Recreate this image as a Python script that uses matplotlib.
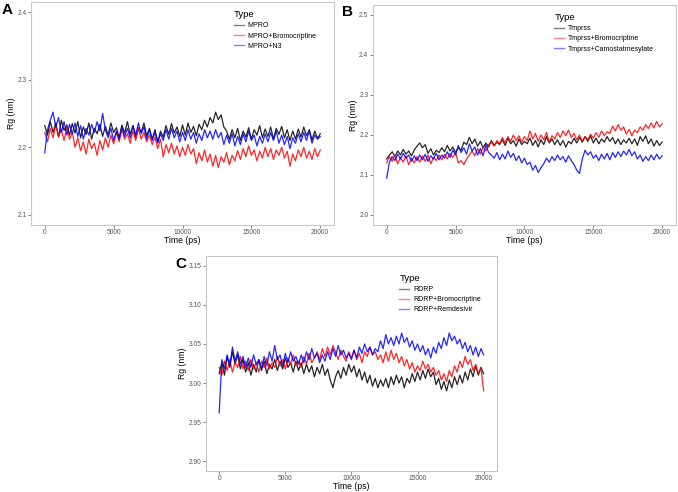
import matplotlib
matplotlib.use("Agg")
import matplotlib.pyplot as plt
import numpy as np

plt.rcParams['font.family'] = ['Liberation Sans', 'DejaVu Sans']

# time axis of the sampled traces (ps)
time_ps = np.arange(0, 20001, 200)

# Panel A - MPRO
mpro = [2.232, 2.218, 2.238, 2.222, 2.236, 2.215, 2.240, 2.225, 2.233, 2.218, 2.235,
        2.221, 2.238, 2.214, 2.230, 2.219, 2.236, 2.212, 2.228, 2.220, 2.234,
        2.216, 2.231, 2.218, 2.236, 2.222, 2.229, 2.214, 2.233, 2.221, 2.238,
        2.219, 2.232, 2.215, 2.229, 2.222, 2.236, 2.217, 2.228, 2.212, 2.226,
        2.208, 2.224, 2.215, 2.232, 2.219, 2.235, 2.221, 2.230, 2.216, 2.233,
        2.218, 2.236, 2.222, 2.231, 2.217, 2.234, 2.226, 2.240, 2.230, 2.244,
        2.236, 2.252, 2.241, 2.248, 2.230, 2.224, 2.212, 2.226, 2.214, 2.228,
        2.210, 2.224, 2.215, 2.229, 2.212, 2.226, 2.218, 2.232, 2.214, 2.227,
        2.216, 2.230, 2.212, 2.228, 2.219, 2.231, 2.214, 2.226, 2.210, 2.224,
        2.212, 2.227, 2.215, 2.230, 2.217, 2.226, 2.211, 2.224, 2.213, 2.220]
mpro_bromo = [2.222, 2.208, 2.228, 2.214, 2.232, 2.216, 2.226, 2.210, 2.230, 2.212, 2.222,
              2.200, 2.214, 2.195, 2.208, 2.190, 2.212, 2.198, 2.206, 2.188, 2.210,
              2.196, 2.214, 2.200, 2.218, 2.205, 2.222, 2.208, 2.226, 2.212, 2.220,
              2.206, 2.224, 2.210, 2.228, 2.212, 2.222, 2.208, 2.218, 2.204, 2.215,
              2.198, 2.212, 2.186, 2.204, 2.192, 2.206, 2.190, 2.202, 2.186, 2.200,
              2.188, 2.204, 2.190, 2.198, 2.176, 2.192, 2.180, 2.196, 2.178, 2.190,
              2.172, 2.188, 2.170, 2.186, 2.178, 2.192, 2.174, 2.188, 2.180, 2.195,
              2.182, 2.198, 2.186, 2.202, 2.188, 2.196, 2.180, 2.194, 2.184, 2.200,
              2.186, 2.198, 2.182, 2.196, 2.188, 2.200, 2.184, 2.194, 2.172, 2.190,
              2.180, 2.196, 2.186, 2.200, 2.184, 2.194, 2.182, 2.198, 2.186, 2.196]
mpro_n3 = [2.192, 2.226, 2.240, 2.252, 2.230, 2.244, 2.222, 2.238, 2.218, 2.234, 2.220,
           2.236, 2.216, 2.232, 2.212, 2.228, 2.218, 2.234, 2.222, 2.238, 2.224,
           2.250, 2.226, 2.214, 2.228, 2.210, 2.224, 2.212, 2.230, 2.216, 2.228,
           2.214, 2.232, 2.218, 2.236, 2.220, 2.230, 2.212, 2.226, 2.210, 2.222,
           2.206, 2.220, 2.210, 2.226, 2.212, 2.228, 2.214, 2.224, 2.208, 2.222,
           2.210, 2.226, 2.212, 2.222, 2.206, 2.220, 2.210, 2.226, 2.214, 2.224,
           2.212, 2.226, 2.214, 2.222, 2.204, 2.218, 2.206, 2.220, 2.202, 2.216,
           2.204, 2.220, 2.208, 2.224, 2.210, 2.218, 2.202, 2.216, 2.206, 2.220,
           2.208, 2.222, 2.210, 2.224, 2.206, 2.218, 2.204, 2.216, 2.198, 2.214,
           2.206, 2.220, 2.208, 2.222, 2.210, 2.224, 2.206, 2.218, 2.212, 2.216]

# Panel B - Tmprss
tmp = [2.140, 2.150, 2.158, 2.146, 2.160, 2.150, 2.164, 2.152, 2.160, 2.148, 2.162,
       2.172, 2.180, 2.168, 2.176, 2.154, 2.166, 2.150, 2.162, 2.156, 2.168,
       2.158, 2.174, 2.160, 2.170, 2.156, 2.168, 2.162, 2.182, 2.176, 2.194,
       2.178, 2.190, 2.172, 2.184, 2.168, 2.180, 2.170, 2.186, 2.174, 2.182,
       2.176, 2.188, 2.174, 2.192, 2.178, 2.186, 2.172, 2.190, 2.176, 2.184,
       2.178, 2.192, 2.174, 2.186, 2.170, 2.188, 2.176, 2.196, 2.180, 2.190,
       2.176, 2.188, 2.174, 2.186, 2.170, 2.184, 2.178, 2.192, 2.180, 2.194,
       2.182, 2.196, 2.184, 2.198, 2.180, 2.192, 2.178, 2.190, 2.182, 2.196,
       2.184, 2.194, 2.178, 2.190, 2.176, 2.188, 2.180, 2.192, 2.178, 2.190,
       2.174, 2.196, 2.184, 2.198, 2.178, 2.190, 2.172, 2.186, 2.174, 2.182]
tmp_bromo = [2.130, 2.146, 2.134, 2.150, 2.128, 2.144, 2.132, 2.148, 2.126, 2.142, 2.130,
             2.146, 2.132, 2.148, 2.134, 2.150, 2.128, 2.144, 2.136, 2.150, 2.138,
             2.152, 2.140, 2.154, 2.144, 2.156, 2.130, 2.136, 2.126, 2.140, 2.150,
             2.160, 2.148, 2.166, 2.152, 2.170, 2.160, 2.176, 2.182, 2.172, 2.186,
             2.178, 2.194, 2.180, 2.196, 2.184, 2.200, 2.186, 2.198, 2.182, 2.196,
             2.186, 2.210, 2.190, 2.204, 2.184, 2.200, 2.188, 2.206, 2.182, 2.198,
             2.190, 2.206, 2.194, 2.210, 2.198, 2.212, 2.194, 2.204, 2.188, 2.200,
             2.184, 2.196, 2.188, 2.202, 2.192, 2.206, 2.194, 2.210, 2.198, 2.208,
             2.204, 2.222, 2.210, 2.226, 2.212, 2.220, 2.202, 2.214, 2.198, 2.212,
             2.206, 2.220, 2.212, 2.226, 2.216, 2.230, 2.218, 2.234, 2.220, 2.228]
tmp_camo = [2.092, 2.132, 2.146, 2.136, 2.152, 2.140, 2.154, 2.142, 2.150, 2.134, 2.148,
            2.136, 2.150, 2.138, 2.152, 2.134, 2.148, 2.140, 2.154, 2.138, 2.150,
            2.142, 2.158, 2.144, 2.162, 2.150, 2.174, 2.156, 2.168, 2.152, 2.178,
            2.160, 2.170, 2.150, 2.166, 2.148, 2.176, 2.156, 2.150, 2.142, 2.156,
            2.138, 2.152, 2.140, 2.160, 2.144, 2.154, 2.136, 2.148, 2.130, 2.142,
            2.126, 2.132, 2.112, 2.124, 2.106, 2.118, 2.128, 2.142, 2.132, 2.146,
            2.136, 2.150, 2.138, 2.146, 2.132, 2.148, 2.136, 2.126, 2.112, 2.104,
            2.140, 2.162, 2.150, 2.158, 2.142, 2.150, 2.136, 2.152, 2.140, 2.154,
            2.138, 2.156, 2.144, 2.158, 2.146, 2.160, 2.150, 2.164, 2.148, 2.158,
            2.140, 2.150, 2.134, 2.146, 2.136, 2.150, 2.138, 2.152, 2.140, 2.148]

# Panel C - RDRP
rdrp = [3.012, 3.026, 3.010, 3.034, 3.020, 3.040, 3.024, 3.036, 3.018, 3.030, 3.014,
        3.026, 3.010, 3.024, 3.014, 3.030, 3.016, 3.028, 3.012, 3.024, 3.018,
        3.030, 3.016, 3.028, 3.018, 3.032, 3.020, 3.026, 3.014, 3.028, 3.016,
        3.026, 3.012, 3.024, 3.014, 3.022, 3.008, 3.020, 3.012, 3.024, 3.010,
        3.018, 3.004, 2.994, 3.008, 3.016, 3.006, 3.020, 3.010, 3.024, 3.014,
        3.022, 3.008, 3.018, 3.004, 3.014, 3.000, 3.010, 2.996, 3.006, 2.994,
        3.004, 2.996, 3.006, 2.994, 3.008, 2.998, 3.010, 3.000, 3.008, 2.994,
        3.006, 3.000, 3.012, 3.002, 3.014, 3.004, 3.016, 3.006, 3.018, 3.008,
        3.014, 2.998, 3.006, 2.992, 3.002, 2.990, 3.004, 2.994, 3.008, 2.998,
        3.010, 3.000, 3.014, 3.004, 3.018, 3.008, 3.022, 3.010, 3.020, 3.012]
rdrp_bromo = [3.020, 3.010, 3.028, 3.016, 3.030, 3.014, 3.026, 3.020, 3.034, 3.018, 3.028,
              3.016, 3.030, 3.018, 3.026, 3.014, 3.028, 3.020, 3.032, 3.018, 3.026,
              3.020, 3.034, 3.022, 3.030, 3.018, 3.032, 3.024, 3.036, 3.022, 3.028,
              3.020, 3.034, 3.024, 3.038, 3.026, 3.032, 3.040, 3.030, 3.044, 3.034,
              3.046, 3.036, 3.048, 3.040, 3.030, 3.042, 3.034, 3.028, 3.040, 3.032,
              3.042, 3.030, 3.038, 3.026, 3.040, 3.034, 3.046, 3.036, 3.040, 3.030,
              3.036, 3.026, 3.040, 3.028, 3.042, 3.030, 3.038, 3.026, 3.034, 3.022,
              3.030, 3.018, 3.026, 3.014, 3.022, 3.016, 3.028, 3.018, 3.024, 3.014,
              3.020, 3.010, 3.016, 3.004, 3.012, 3.002, 3.016, 3.008, 3.022, 3.014,
              3.028, 3.020, 3.034, 3.024, 3.030, 3.016, 3.024, 3.012, 3.020, 2.990]
rdrp_remd = [2.962, 3.030, 3.018, 3.036, 3.022, 3.046, 3.028, 3.040, 3.024, 3.034, 3.020,
             3.032, 3.020, 3.036, 3.024, 3.030, 3.018, 3.034, 3.022, 3.040, 3.028,
             3.048, 3.030, 3.036, 3.022, 3.038, 3.026, 3.040, 3.028, 3.034, 3.024,
             3.036, 3.026, 3.040, 3.030, 3.044, 3.032, 3.038, 3.026, 3.036, 3.028,
             3.040, 3.030, 3.044, 3.034, 3.048, 3.036, 3.042, 3.032, 3.038, 3.030,
             3.042, 3.032, 3.046, 3.038, 3.050, 3.040, 3.046, 3.036, 3.044, 3.040,
             3.054, 3.044, 3.062, 3.050, 3.058, 3.048, 3.060, 3.050, 3.064, 3.052,
             3.058, 3.046, 3.054, 3.042, 3.050, 3.040, 3.048, 3.036, 3.044, 3.032,
             3.046, 3.038, 3.052, 3.044, 3.058, 3.048, 3.064, 3.054, 3.060, 3.050,
             3.056, 3.044, 3.052, 3.040, 3.048, 3.036, 3.046, 3.034, 3.044, 3.036]

colors = ["black", "#ff0000", "#0000ff"]

# label position in figure coords, legend anchor in axes coords
panels = [
    ("A", [0.0457, 0.5427, 0.447, 0.4533], (2.1, 2.4), [2.1, 2.2, 2.3, 2.4], "%.1f",
     [mpro, mpro_bromo, mpro_n3], ["MPRO", "MPRO+Bromocriptine", "MPRO+N3"],
     (0.003, 0.994), (0.66, 0.975)),
    ("B", [0.550, 0.5427, 0.447, 0.4472], (2.0, 2.5), [2.0, 2.1, 2.2, 2.3, 2.4, 2.5], "%.1f",
     [tmp, tmp_bromo, tmp_camo], ["Tmprss", "Tmprss+Bromocriptine", "Tmprss+Camostatmesylate"],
     (0.505, 0.99), (0.59, 0.975)),
    ("C", [0.3038, 0.0427, 0.429, 0.437], (2.9, 3.15), [2.90, 2.95, 3.00, 3.05, 3.10, 3.15], "%.2f",
     [rdrp, rdrp_bromo, rdrp_remd], ["RDRP", "RDRP+Bromocriptine", "RDRP+Remdesivir"],
     (0.258, 0.477), (0.655, 0.93)),
]

fig = plt.figure(figsize=(6.78, 4.92), dpi=100)

for label, rect, ylim, yticks, fmt, series, names, lab_xy, leg_xy in panels:
    ax = fig.add_axes(rect)
    for vals, name, c in zip(series, names, colors):
        ax.plot(time_ps, vals, color=c, lw=0.9, alpha=0.85, label=name)
    pad = (ylim[1] - ylim[0]) * 0.05
    ax.set_ylim(ylim[0] - pad, ylim[1] + pad)
    ax.set_xlim(-1000, 21000)
    ax.set_xticks([0, 5000, 10000, 15000, 20000])
    ax.set_yticks(yticks)
    ax.set_yticklabels([fmt % v for v in yticks])
    for sp in ax.spines.values():
        sp.set_color("#c8c8c8")
        sp.set_linewidth(0.8)
    ax.tick_params(labelsize=4.8, colors="#555555", length=2, width=0.5, pad=1.2)
    ax.set_xlabel("Time (ps)", fontsize=6.2, labelpad=0)
    ax.set_ylabel("Rg (nm)", fontsize=6.2, labelpad=1)
    leg = ax.legend(title="Type", loc="upper left", bbox_to_anchor=leg_xy, frameon=False,
                    fontsize=5.0, title_fontsize=6.8, handlelength=1.4, handletextpad=0.6,
                    labelspacing=0.45, borderaxespad=0)
    leg._legend_box.align = "left"
    for h in leg.get_lines():
        h.set_alpha(0.5)
        h.set_linewidth(1.0)
    fig.text(lab_xy[0], lab_xy[1], label, fontsize=11, fontweight="bold", va="top", ha="left")

fig.savefig("out.png", dpi=100)
